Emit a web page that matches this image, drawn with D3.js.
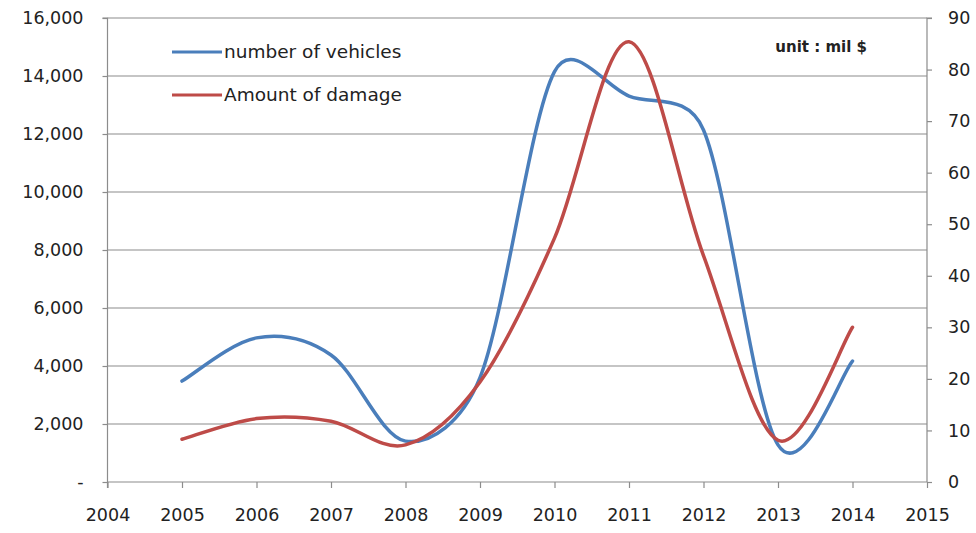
<!DOCTYPE html>
<html><head><meta charset="utf-8">
<script src="https://cdn.jsdelivr.net/npm/d3@7"></script>
<style>body{margin:0;background:#fff}svg{display:block}text{font-family:"DejaVu Sans",sans-serif;fill:#222}</style>
</head><body><svg id="c" width="976" height="533"></svg>
<script>
const years = [2005,2006,2007,2008,2009,2010,2011,2012,2013,2014];
const vehicles = [3480,4970,4380,1410,3600,14150,13310,12140,1280,4170];
const damage = [8.3,12.3,11.8,7.2,19.4,47.3,85.4,43.9,8.1,30.0];
const xTicks = [2004,2005,2006,2007,2008,2009,2010,2011,2012,2013,2014,2015];
const leftTicks = [0,2000,4000,6000,8000,10000,12000,14000,16000];
const rightTicks = [0,10,20,30,40,50,60,70,80,90];
const seriesNames = ["number of vehicles","Amount of damage"];
const unitLabel = "unit : mil $";

const svg = d3.select("#c");
const L=107.5, R=927, T=18, B=482;
const x = d3.scaleLinear().domain([2004,2015]).range([L,R]);
const yL = d3.scaleLinear().domain([0,16000]).range([B,T]);
const yR = d3.scaleLinear().domain([0,90]).range([B,T]);
const grey="#8c8c8c", blue="#4a7ebb", red="#be4b48";
const FS = 17.5;

svg.append("g").selectAll("line").data(leftTicks.slice(1)).join("line")
  .attr("x1",L).attr("x2",R).attr("y1",d=>yL(d)).attr("y2",d=>yL(d))
  .attr("stroke",grey).attr("stroke-width",1.2);

const fmt = d=> d===0 ? "-" : d3.format(",")(d);
const gl = svg.append("g").attr("transform",`translate(${L},0)`)
  .call(d3.axisLeft(yL).tickValues(leftTicks).tickFormat(fmt).tickSize(5).tickPadding(19));
const gr = svg.append("g").attr("transform",`translate(${R},0)`)
  .call(d3.axisRight(yR).tickValues(rightTicks).tickSize(5).tickPadding(16));
const gx = svg.append("g").attr("transform",`translate(0,${B})`)
  .call(d3.axisBottom(x).tickValues(xTicks).tickFormat(d3.format("d")).tickSize(6).tickPadding(21));
[gl,gr,gx].forEach(g=>{
  g.select(".domain").attr("stroke",grey).attr("stroke-width",1.2);
  g.selectAll(".tick line").attr("stroke",grey).attr("stroke-width",1.2);
  g.selectAll(".tick text").attr("font-size",FS).attr("font-family",'"DejaVu Sans",sans-serif').attr("fill","#222");
});
gl.select(".domain").attr("d",`M-5,${T}H0V${B+6}`);
gr.select(".domain").attr("d",`M5,${T}H0V${B}`);
gx.select(".domain").attr("d",`M${L},0H${R}`);

// Excel-style smoothed line: Catmull-Rom tangents, control offsets clamped to half the adjacent segment
function smoothPath(pts){
  const p = d3.path(), n = pts.length;
  const dist=(a,b)=>Math.hypot(b[0]-a[0],b[1]-a[1]);
  const ctrl = pts.map((P,i)=>{
    const A = pts[Math.max(0,i-1)], C = pts[Math.min(n-1,i+1)];
    const vx=C[0]-A[0], vy=C[1]-A[1], len=Math.hypot(vx,vy)||1;
    const ux=vx/len, uy=vy/len, base=len/6;
    const inL = i>0 ? Math.min(base, dist(pts[i-1],P)/2) : 0;
    const outL = i<n-1 ? Math.min(base, dist(P,pts[i+1])/2) : 0;
    return {in:[P[0]-ux*inL,P[1]-uy*inL], out:[P[0]+ux*outL,P[1]+uy*outL]};
  });
  p.moveTo(pts[0][0],pts[0][1]);
  for(let i=0;i<n-1;i++){
    const c1=ctrl[i].out, c2=ctrl[i+1].in, e=pts[i+1];
    p.bezierCurveTo(c1[0],c1[1],c2[0],c2[1],e[0],e[1]);
  }
  return p.toString();
}
const addSeries=(vals,yS,color)=>svg.append("path")
  .attr("d",smoothPath(vals.map((v,i)=>[x(years[i]),yS(v)])))
  .attr("fill","none").attr("stroke",color).attr("stroke-width",3.5).attr("stroke-linecap","round");
addSeries(vehicles,yL,blue);
addSeries(damage,yR,red);

const lg = svg.append("g");
[[blue,52],[red,95]].forEach((c,i)=>{
  lg.append("line").attr("x1",172).attr("x2",222).attr("y1",c[1]).attr("y2",c[1]).attr("stroke",c[0]).attr("stroke-width",3);
  lg.append("text").attr("x",224).attr("y",c[1]).attr("dy","0.35em").attr("font-size",18.5).text(seriesNames[i]);
});
svg.append("text").attr("x",867).attr("y",47).attr("dy","0.35em").attr("text-anchor","end")
  .attr("font-size",15).attr("font-weight","bold").text(unitLabel);
</script></body></html>
